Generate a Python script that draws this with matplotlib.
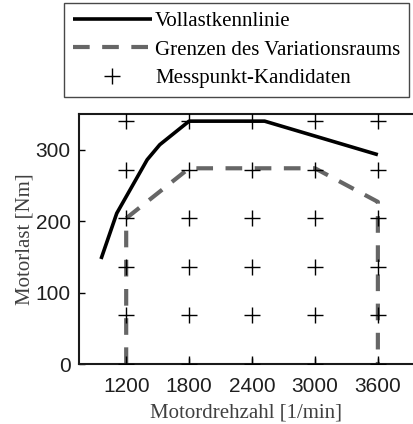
import matplotlib
matplotlib.use("Agg")
import matplotlib.pyplot as plt
import numpy as np

# Data
full_load_rpm = [960, 1110, 1400, 1520, 1800, 2520, 3600]
full_load_nm = [147, 211, 286, 307, 340, 340, 293]

bound_rpm = [1200, 1200, 1800, 3000, 3600, 3600]
bound_nm = [0, 204, 274, 274, 227, 0]

cand_rpm = [1200, 1800, 2400, 3000, 3600]
cand_nm = [0, 68, 136, 204, 272, 340]

xticks = [1200, 1800, 2400, 3000, 3600]
yticks = [0, 100, 200, 300]

W, H = 413, 424
fig = plt.figure(figsize=(W / 100, H / 100), dpi=100)
ax = fig.add_axes([79 / W, 1 - 364 / H, 1 - 79 / W, (364 - 114) / H])

serif = ['Liberation Serif', 'DejaVu Serif']
sans = ['Liberation Sans', 'DejaVu Sans']

l1, = ax.plot(full_load_rpm, full_load_nm, color='black', lw=2.6,
              solid_capstyle='butt', zorder=3)
l2, = ax.plot(bound_rpm, bound_nm, color='#666666', lw=3.0,
              dashes=(4, 3), dash_capstyle='butt', zorder=2)
cx, cy = np.meshgrid(cand_rpm, cand_nm)
l3, = ax.plot(cx.ravel(), cy.ravel(), linestyle='none', marker='+',
              markersize=12, markeredgewidth=1.0, color='black', zorder=4)

ax.set_xlim(750, 3935)
ax.set_ylim(0, 350)
ax.set_xticks(xticks)
ax.set_yticks(yticks)
ax.tick_params(direction='in', length=4, width=1, labelsize=15,
               labelcolor='#1f1f1f')
ax.tick_params(axis='x', pad=9)
ax.tick_params(axis='y', pad=6)
for lab in ax.get_xticklabels() + ax.get_yticklabels():
    lab.set_family(sans)

for s in ['left', 'bottom', 'top']:
    ax.spines[s].set_linewidth(1.5)
    ax.spines[s].set_color('#1a1a1a')
ax.spines['right'].set_visible(False)

ax.set_xlabel('Motordrehzahl [1/min]', family=serif, fontsize=15,
              color='#404040', labelpad=6)
ax.set_ylabel('Motorlast [Nm]', family=serif, fontsize=15,
              color='#404040', labelpad=1)

leg = fig.legend([l1, l2, l3],
                 ['Vollastkennlinie', 'Grenzen des Variationsraums',
                  'Messpunkt-Kandidaten'],
                 loc='upper left', bbox_to_anchor=(64 / W, 1 - 3 / H),
                 borderaxespad=0, prop={'family': serif, 'size': 15},
                 handlelength=3.8, handletextpad=0.15, labelspacing=0.42,
                 borderpad=0.42, fancybox=False, frameon=True)
leg.get_frame().set_edgecolor('#1a1a1a')
leg.get_frame().set_linewidth(1.0)

fig.savefig('out.png', dpi=100)
